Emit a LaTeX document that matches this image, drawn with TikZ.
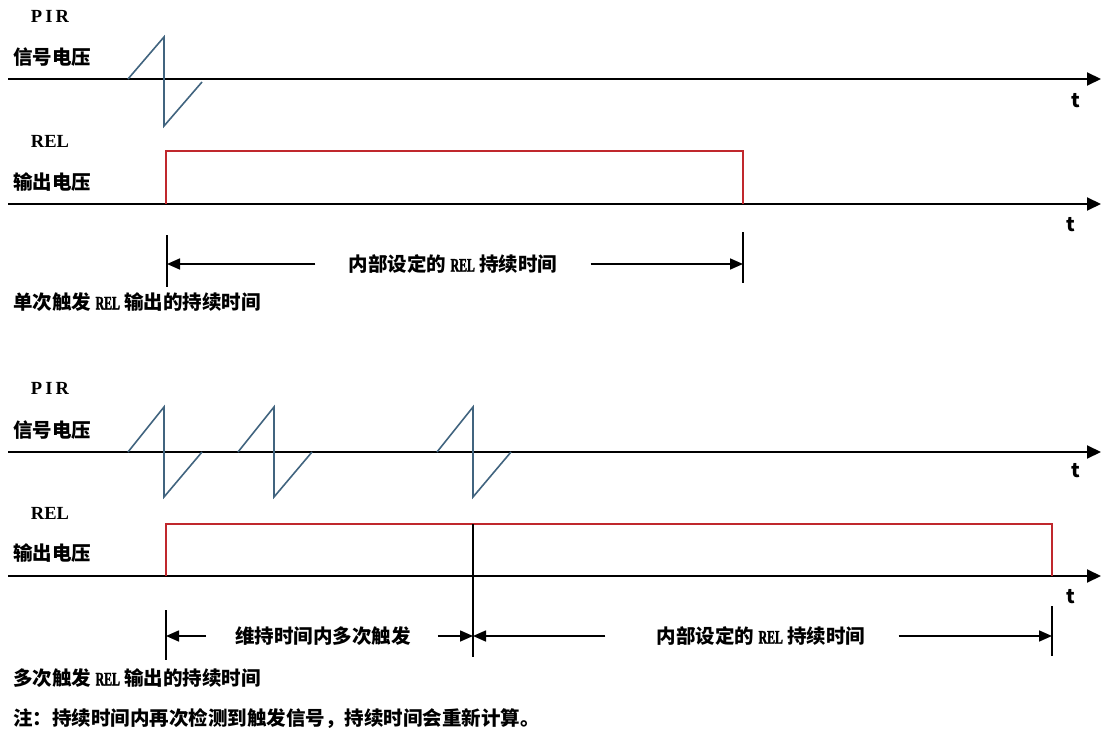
\documentclass[tikz,border=0pt]{standalone}
\usepackage{fontspec}
\setmainfont{Noto Sans CJK SC}
\newfontfamily\latserif{Liberation Serif}
\newfontfamily\latnarrow[FakeStretch=0.62,FakeBold=2]{Liberation Serif}
\newcommand{\relword}{\hspace{4.5pt}{\fontsize{19}{19}\selectfont\latnarrow REL}\hspace{4.5pt}}
\usetikzlibrary{arrows.meta}
\definecolor{pulseblue}{HTML}{41647F}
\definecolor{relred}{HTML}{C0282D}

\begin{document}
\begin{tikzpicture}[x=1pt,y=-1pt,>={Triangle[length=13pt,width=11pt]},
    lbl/.style={font=\fontsize{19.5}{19.5}\selectfont\bfseries,inner sep=0pt},
    sig/.style={font=\fontsize{18.5}{18.5}\selectfont\bfseries\latserif,inner sep=0pt},
    taxis/.style={line width=2pt,-{Triangle[length=14pt,width=13pt]}},
    wave/.style={pulseblue,line width=1.6pt},
    relout/.style={relred,line width=1.6pt},
    dim/.style={line width=1.6pt}]
  \useasboundingbox (0,0) rectangle (1104,733);

  % single trigger
  \node[sig] (pirA) at (50,16) {P\,I\,R};
  \node[lbl,anchor=west] (vinA) at (13,57) {信号电压};
  \draw[taxis] (8,79) -- (1101,79);
  \node[lbl] (tA) at (1076,101) {t};
  \draw[wave] (128,79) -- ++(36,-42) -- ++(0,89) -- ++(38,-44);

  \node[sig] (relA) at (50,141) {REL};
  \node[lbl,anchor=west] (voutA) at (13,182) {输出电压};
  \draw[taxis] (8,204) -- (1101,204);
  \node[lbl] (tB) at (1071,225) {t};
  \draw[relout] (166,204) |- (743,151) -- (743,204);

  \coordinate (a0) at (167,264);
  \coordinate (a1) at (743,264);
  \draw[dim] (167,235) -- (167,287);
  \draw[dim] (743,232) -- (743,283);
  \node[lbl] (durA) at (453,264) {内部设定的\relword 持续时间};
  \draw[dim,->] (durA.west) ++(-33,0) -- (a0);
  \draw[dim,->] (durA.east) ++(33,0) -- (a1);
  \node[lbl,anchor=west] (capA) at (13,302) {单次触发\relword 输出的持续时间};

  % multiple triggers
  \node[sig] (pirB) at (50,388) {P\,I\,R};
  \node[lbl,anchor=west] (vinB) at (13,430) {信号电压};
  \draw[taxis] (8,452) -- (1101,452);
  \node[lbl] (tC) at (1076,471) {t};
  \foreach \x in {128,238,437}
    \draw[wave] (\x,452) -- ++(36,-45) -- ++(0,90) -- ++(38,-45);

  \node[sig] (relB) at (50,513) {REL};
  \node[lbl,anchor=west] (voutB) at (13,553) {输出电压};
  \draw[taxis] (8,576) -- (1101,576);
  \node[lbl] (tD) at (1071,597) {t};
  \draw[relout] (166,576) |- (1052,524) -- (1052,576);
  \draw[dim] (473,524) -- (473,657);

  \coordinate (b0) at (166,636);
  \coordinate (b1) at (473,636);
  \coordinate (b2) at (1052,636);
  \draw[dim] (166,610) -- (166,660);
  \draw[dim] (1052,606) -- (1052,656);
  \node[lbl] (durB) at (323,636) {维持时间内多次触发};
  \node[lbl] (durC) at (761,636) {内部设定的\relword 持续时间};
  \draw[dim,->] (durB.west) ++(-29,0) -- (b0);
  \draw[dim,->] (durB.east) ++(27,0) -- (b1);
  \draw[dim,->] (durC.west) ++(-51,0) -- (b1);
  \draw[dim,->] (durC.east) ++(33,0) -- (b2);
  \node[lbl,anchor=west] (capB) at (13,678) {多次触发\relword 输出的持续时间};
  \node[lbl,anchor=west] (note) at (13,719) {注：持续时间内再次检测到触发信号，持续时间会重新计算。};
\end{tikzpicture}
\end{document}
